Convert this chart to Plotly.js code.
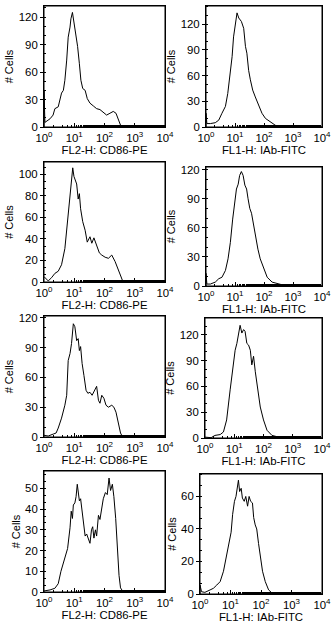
<!DOCTYPE html>
<html>
<head>
<meta charset="utf-8">
<script src="https://cdn.plot.ly/plotly-3.0.1.min.js"></script>
<style>html,body{margin:0;padding:0;background:#fff;}#chart{width:333px;height:625px;}</style>
</head>
<body>
<div id="chart"></div>
<script>
// Titles
const xTitleCD86 = 'FL2-H: CD86-PE';
const xTitleIAb = 'FL1-H: IAb-FITC';
const yTitle = '# Cells';
const xTickVals = [1, 10, 100, 1000, 10000];
const xTickText = ['10<sup>0</sup>', '10<sup>1</sup>', '10<sup>2</sup>', '10<sup>3</sup>', '10<sup>4</sup>'];

// Histogram data: x in decades (log10 of channel intensity), y = # cells
const p1_dec = [0,0,0.03,0.2,0.3,0.36,0.47,0.53,0.58,0.64,0.69,0.75,0.8,0.86,0.89,0.94,0.99,1.06,1.11,1.17,1.22,1.28,1.36,1.43,1.52,1.63,1.74,1.85,1.96,2.07,2.18,2.29,2.38,2.46,2.53,2.62,4];
const p1_cnt = [0,40,5,9,13,20,22,29,37,40,51,73,98,109,118,125,113,102,88,69,51,42,40,31,26,23,20,19,16,13,15,17,15,8,2,0,0];

const p2_dec = [0,0,0.03,0.15,0.32,0.44,0.55,0.67,0.75,0.84,0.9,0.95,1.01,1.07,1.13,1.22,1.3,1.36,1.41,1.47,1.53,1.61,1.7,1.82,1.93,2.05,2.22,2.39,2.57,4];
const p2_cnt = [0,16,4,4,5,8,16,24,39,63,82,105,121,133,127,123,115,94,86,66,55,43,35,24,16,10,6,2,0,0];

const p3_dec = [0,0.09,0.14,0.25,0.36,0.47,0.58,0.69,0.78,0.86,0.91,0.95,0.99,1.04,1.08,1.13,1.17,1.21,1.28,1.36,1.43,1.52,1.58,1.65,1.74,1.83,1.91,2.02,2.13,2.24,2.35,2.42,2.51,2.6,2.68,4];
const p3_cnt = [5,2,1,4,8,10,16,31,56,81,94,106,98,94,91,77,82,68,56,48,37,42,36,41,34,27,25,23,22,25,19,14,6,1,0,0];

const p4_dec = [0,0,0.03,0.15,0.32,0.44,0.55,0.67,0.76,0.84,0.92,0.99,1.05,1.11,1.16,1.22,1.28,1.34,1.4,1.45,1.51,1.57,1.62,1.7,1.79,1.87,1.99,2.11,2.28,2.51,2.74,4];
const p4_cnt = [0,13,2,2,4,7.5,9,16,28,45,69,83,100,105,114,118,114,104,100,90,80,75,66,52,38,28,18,9,4,2,0.3,0];

const p5_dec = [0,0.14,0.31,0.4,0.47,0.58,0.69,0.75,0.8,0.86,0.91,0.97,1.02,1.08,1.13,1.17,1.21,1.26,1.32,1.39,1.45,1.52,1.59,1.66,1.74,1.8,1.85,1.91,1.98,2.05,2.13,2.24,2.31,2.38,2.46,2.53,2.6,4];
const p5_cnt = [1.7,1,3,4,9,19,32,42,77,84,94,114,111,97,99,87,91,74,62,47,44,45,42,47,51,37,34,42,39,32,30,32,30,25,14,4,0,0];

const p6_dec = [0,0.21,0.34,0.52,0.63,0.74,0.86,0.92,0.97,1.03,1.09,1.15,1.2,1.26,1.32,1.37,1.43,1.49,1.55,1.6,1.66,1.72,1.81,1.89,2.0,2.12,2.29,2.52,2.75,4];
const p6_cnt = [1,0.4,3,4,7,21,56,75,91,102,110,122,131,122,126,124,110,108,102,85,95,77,56,36,21,9,3,1,0,0];

const p7_dec = [0,0.2,0.36,0.47,0.56,0.62,0.69,0.78,0.86,0.9,0.94,0.97,1.02,1.06,1.1,1.13,1.17,1.21,1.26,1.3,1.36,1.41,1.47,1.52,1.57,1.61,1.65,1.7,1.74,1.8,1.85,1.91,1.96,2.03,2.09,2.15,2.2,2.26,2.31,2.37,2.42,2.48,2.53,2.62,4];
const p7_cnt = [0.5,1,1.8,4,10,13,16,21,31,39,35.5,42,43,46,52,47.5,44,45,39,32,27,28,26,23.5,30,31.5,26,30,27,37,35,41,45,48,47,55,49,52,46,35.5,23,8,2,0,0];

const p8_dec = [0,0,0.05,0.16,0.33,0.44,0.55,0.66,0.77,0.84,0.91,0.96,1.02,1.07,1.13,1.18,1.23,1.26,1.3,1.35,1.39,1.45,1.5,1.56,1.61,1.66,1.72,1.76,1.81,1.86,1.92,1.97,2.05,2.14,2.25,2.35,2.46,4];
const p8_cnt = [0,5.5,1.4,1,2.5,3.5,5.5,7.6,14,21,27,32,38,49,57,60,65,70,63,65,59,57,60,54,60,57,56,47,42.5,40,31,24,14,7.6,2.5,0.8,0,0];

const series = [
  {dec: p1_dec, cnt: p1_cnt, xt: xTitleCD86},
  {dec: p2_dec, cnt: p2_cnt, xt: xTitleIAb},
  {dec: p3_dec, cnt: p3_cnt, xt: xTitleCD86},
  {dec: p4_dec, cnt: p4_cnt, xt: xTitleIAb},
  {dec: p5_dec, cnt: p5_cnt, xt: xTitleCD86},
  {dec: p6_dec, cnt: p6_cnt, xt: xTitleIAb},
  {dec: p7_dec, cnt: p7_cnt, xt: xTitleCD86},
  {dec: p8_dec, cnt: p8_cnt, xt: xTitleIAb}
];

// Layout geometry (pixels): left, right, top, bottom, y max, y dtick
const W = 333, H = 625;
const boxes = [
  [44, 165, 6, 127, 132, 30],
  [206, 322, 6, 127, 141, 30],
  [44, 165, 162, 282, 111.4, 20],
  [206, 322, 167, 286, 122.7, 30],
  [44, 165, 316, 437, 121.8, 30],
  [205, 322, 318, 438, 139.5, 30],
  [44, 165, 471, 592, 58.4, 10],
  [200, 322, 474, 594, 73.8, 20]
];

const FONT = 'Liberation Sans, Arial, sans-serif';
const traces = [];
const shapes = [];
const layout = {
  width: W, height: H,
  margin: {l: 0, r: 0, t: 0, b: 0},
  paper_bgcolor: '#fff', plot_bgcolor: '#fff',
  showlegend: false,
  font: {family: FONT, size: 11.4, color: '#000'},
  shapes: shapes
};

series.forEach((s, i) => {
  const n = i + 1;
  const sfx = n === 1 ? '' : String(n);
  traces.push({
    type: 'scatter', mode: 'lines',
    x: s.dec.map(d => Math.pow(10, d)),
    y: s.cnt,
    xaxis: 'x' + sfx, yaxis: 'y' + sfx,
    line: {color: '#000', width: 1},
    hoverinfo: 'skip'
  });
  const b = boxes[i];
  layout['xaxis' + sfx] = {
    type: 'log', range: [0, 4],
    domain: [b[0] / W, b[1] / W],
    anchor: 'y' + sfx,
    showgrid: false, zeroline: false,
    showline: true, mirror: true, linecolor: '#000', linewidth: 1,
    tickmode: 'array', tickvals: xTickVals, ticktext: xTickText,
    ticks: 'inside', ticklen: 4, tickcolor: '#000',
    minor: {ticks: 'inside', ticklen: 2, tickcolor: '#000', showgrid: false},
    tickfont: {family: FONT, size: 11.4, color: '#000'},
    title: {text: s.xt, font: {family: FONT, size: 11.4, color: '#000'}, standoff: 1},
    fixedrange: true
  };
  layout['yaxis' + sfx] = {
    range: [0, b[4]],
    domain: [1 - b[3] / H, 1 - b[2] / H],
    anchor: 'x' + sfx,
    showgrid: false, zeroline: false,
    showline: true, mirror: true, linecolor: '#000', linewidth: 1,
    dtick: b[5], tick0: 0,
    ticks: 'outside', ticklen: 3, tickcolor: '#000',
    minor: {ticks: 'inside', ticklen: 2, tickcolor: '#000', dtick: b[5] / 3, showgrid: false},
    tickfont: {family: FONT, size: 11.4, color: '#000'},
    title: {text: yTitle, font: {family: FONT, size: 11, color: '#000'}, standoff: 2},
    fixedrange: true
  };
  // frame around each panel (domain coordinates)
  shapes.push({
    type: 'rect', xref: 'x' + sfx + ' domain', yref: 'y' + sfx + ' domain',
    x0: 0, x1: 1, y0: 0, y1: 1,
    line: {color: '#000', width: 1}, fillcolor: 'rgba(0,0,0,0)', layer: 'above'
  });
});

Plotly.newPlot('chart', traces, layout, {staticPlot: true, displayModeBar: false});
</script>
</body>
</html>
